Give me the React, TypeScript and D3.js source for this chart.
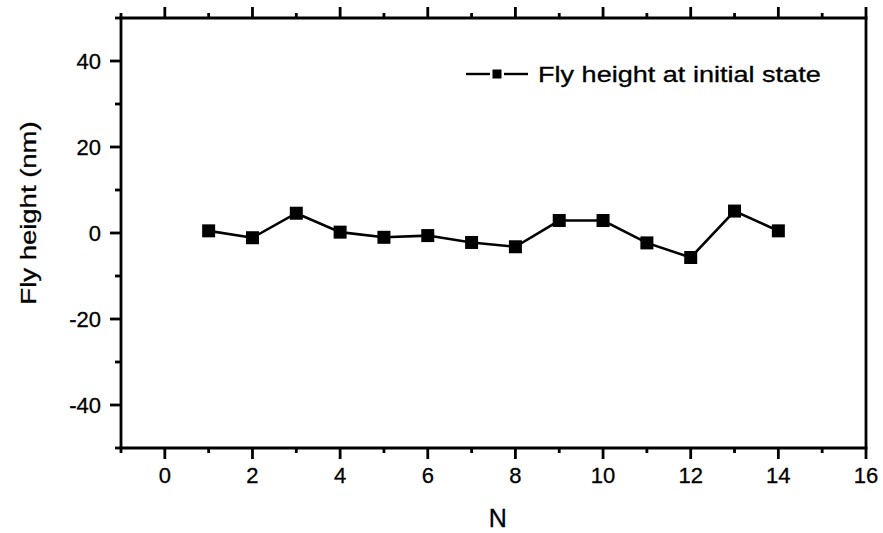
import React, { useEffect, useRef } from "react"
import * as d3 from "d3"

const nValues = [1, 2, 3, 4, 5, 6, 7, 8, 9, 10, 11, 12, 13, 14]
const flyHeight = [0.5, -1.1, 4.6, 0.2, -1.0, -0.6, -2.2, -3.2, 2.9, 2.9, -2.3, -5.7, 5.1, 0.5]
const xTicks = [0, 2, 4, 6, 8, 10, 12, 14, 16]
const xMinor = [-1, 1, 3, 5, 7, 9, 11, 13, 15]
const yTicks = [-40, -20, 0, 20, 40]
const yMinor = [-50, -30, -10, 10, 30, 50]
const seriesName = "Fly height at initial state"

const W = 883, H = 533
const margin = { left: 121, right: 17, top: 18, bottom: 85 }
const font = "Arial, 'Liberation Sans', sans-serif"

export default function App() {
	const ref = useRef<SVGSVGElement>(null)

	useEffect(() => {
		const svg = d3.select(ref.current)
		svg.selectAll("*").remove()

		const x = d3.scaleLinear().domain([-1, 16]).range([margin.left, W - margin.right])
		const y = d3.scaleLinear().domain([-50, 50]).range([H - margin.bottom, margin.top])
		const [x0, x1] = x.range()
		const [y0, y1] = y.range()

		const axes = svg.append("g").attr("stroke", "#000").attr("stroke-width", 2.8)

		// frame
		axes.append("line").attr("x1", x0 - 1.4).attr("x2", x1 + 1.4).attr("y1", y0).attr("y2", y0)
		axes.append("line").attr("x1", x0 - 1.4).attr("x2", x1 + 1.4).attr("y1", y1).attr("y2", y1)
		axes.append("line").attr("x1", x0).attr("x2", x0).attr("y1", y0).attr("y2", y1)
		axes.append("line").attr("x1", x1).attr("x2", x1).attr("y1", y0).attr("y2", y1)

		// bottom + top ticks
		const tickX = (vals: number[], len: number) => {
			axes.selectAll(null).data(vals).enter().append("line")
				.attr("x1", d => x(d)).attr("x2", d => x(d))
				.attr("y1", y0).attr("y2", y0 + len)
			axes.selectAll(null).data(vals).enter().append("line")
				.attr("x1", d => x(d)).attr("x2", d => x(d))
				.attr("y1", y1).attr("y2", y1 - len)
		}
		tickX(xTicks, 11)
		tickX(xMinor, 5)

		// left ticks
		axes.selectAll(null).data(yTicks).enter().append("line")
			.attr("x1", x0).attr("x2", x0 - 11)
			.attr("y1", d => y(d)).attr("y2", d => y(d))
		axes.selectAll(null).data(yMinor).enter().append("line")
			.attr("x1", x0).attr("x2", x0 - 6)
			.attr("y1", d => y(d)).attr("y2", d => y(d))

		svg.append("g").selectAll("text").data(xTicks).enter().append("text")
			.attr("x", d => x(d)).attr("y", y0 + 35)
			.attr("text-anchor", "middle")
			.attr("font-family", font).attr("font-size", 22)
			.attr("stroke", "#000").attr("stroke-width", 0.3)
			.text(d => d)

		svg.append("g").selectAll("text").data(yTicks).enter().append("text")
			.attr("x", x0 - 20).attr("y", d => y(d) + 8)
			.attr("text-anchor", "end")
			.attr("font-family", font).attr("font-size", 22)
			.attr("stroke", "#000").attr("stroke-width", 0.3)
			.text(d => d)

		svg.append("text")
			.attr("x", x(7.6)).attr("y", 527)
			.attr("text-anchor", "middle")
			.attr("font-family", font).attr("font-size", 25)
			.attr("stroke", "#000").attr("stroke-width", 0.3)
			.text("N")

		svg.append("text")
			.attr("transform", `translate(36, 213) rotate(-90) scale(1.25, 1)`)
			.attr("text-anchor", "middle")
			.attr("font-family", font).attr("font-size", 22)
			.attr("stroke", "#000").attr("stroke-width", 0.3)
			.text("Fly height (nm)")

		// series
		const line = d3.line<number>().x((_, i) => x(nValues[i])).y(d => y(d))
		svg.append("path").datum(flyHeight)
			.attr("d", line).attr("fill", "none")
			.attr("stroke", "#000").attr("stroke-width", 2.6)
		svg.append("g").selectAll("rect").data(flyHeight).enter().append("rect")
			.attr("x", (_, i) => x(nValues[i]) - 6.5).attr("y", d => y(d) - 6.5)
			.attr("width", 13).attr("height", 13).attr("fill", "#000")

		// legend
		const lg = svg.append("g").attr("transform", "translate(466, 74)")
		lg.append("line").attr("x1", 0).attr("x2", 24).attr("y1", 0).attr("y2", 0)
			.attr("stroke", "#000").attr("stroke-width", 2.4)
		lg.append("line").attr("x1", 38).attr("x2", 62).attr("y1", 0).attr("y2", 0)
			.attr("stroke", "#000").attr("stroke-width", 2.4)
		lg.append("rect").attr("x", 26.5).attr("y", -4.5).attr("width", 9).attr("height", 9).attr("fill", "#000")
		lg.append("text").attr("transform", "translate(72, 8) scale(1.23, 1)")
			.attr("font-family", font).attr("font-size", 22)
			.attr("stroke", "#000").attr("stroke-width", 0.3)
			.text(seriesName)
	}, [])

	return (
		<svg ref={ref} width={W} height={H}
			style={{ position: "absolute", left: 0, top: 0, background: "#fff" }} />
	)
}
